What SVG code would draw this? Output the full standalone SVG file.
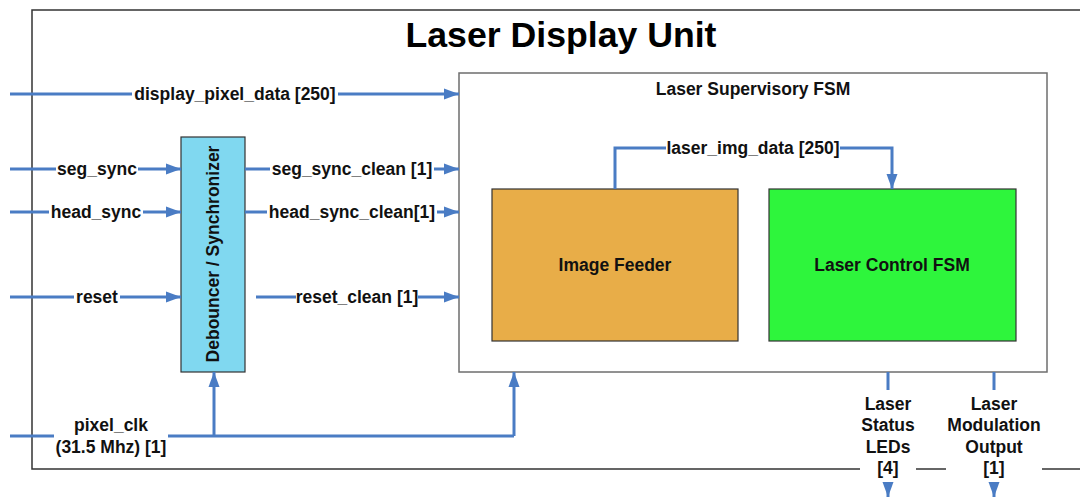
<svg xmlns="http://www.w3.org/2000/svg" width="1080" height="497" viewBox="0 0 1080 497">
  <style>
    .frame { fill: #ffffff; stroke: #6e6e6e; stroke-width: 1.5; }
    .wire { fill: none; stroke: #4a7cc4; stroke-width: 3; }
    .lbl { font-family: "Liberation Sans", Arial, sans-serif; font-weight: bold; font-size: 17.5px; fill: #111111; text-anchor: middle; }
    .title { font-family: "Liberation Sans", Arial, sans-serif; font-weight: bold; font-size: 35px; fill: #000000; text-anchor: middle; }
    .gap { fill: #ffffff; }
  </style>
  <defs>
    <marker id="arrow" viewBox="0 0 15 12" refX="15" refY="6" markerWidth="15" markerHeight="12" markerUnits="userSpaceOnUse" orient="auto">
      <path d="M0,0.5 L15,6 L0,11.5 Z" fill="#4a7cc4"/>
    </marker>
  </defs>

  <rect width="1080" height="497" fill="#ffffff"/>

  <!-- Outer unit boundary (open on the right, broken at the output labels) -->
  <g id="laser-display-unit">
    <path d="M1080,10 L32,10 L32,469 L860,469" fill="none" stroke="#333333" stroke-width="1.5"/>
    <path d="M916,469 L946,469" fill="none" stroke="#333333" stroke-width="1.5"/>
    <path d="M1042,469 L1080,469" fill="none" stroke="#333333" stroke-width="1.5"/>
    <text class="title" x="561" y="47" textLength="311" lengthAdjust="spacingAndGlyphs">Laser Display Unit</text>
  </g>

  <g id="laser-supervisory-fsm">
    <rect class="frame" x="459" y="73" width="588" height="299"/>
    <text class="lbl" x="753" y="95">Laser Supervisory FSM</text>
  </g>

  <g id="image-feeder">
    <rect x="492" y="189" width="246" height="152" fill="#e8ad48" stroke="#333333" stroke-width="1.2"/>
    <text class="lbl" x="615" y="271">Image Feeder</text>
  </g>

  <g id="laser-control-fsm">
    <rect x="769" y="189" width="247" height="152" fill="#2ef53c" stroke="#333333" stroke-width="1.2"/>
    <text class="lbl" x="892" y="271">Laser Control FSM</text>
  </g>

  <g id="debouncer-synchronizer">
    <rect x="181" y="137" width="64" height="235" fill="#80d8f0" stroke="#333333" stroke-width="1.2"/>
    <text class="lbl" transform="translate(219,254) rotate(-90)">Debouncer / Synchronizer</text>
  </g>

  <g id="connectors">
    <!-- inputs to the unit -->
    <path class="wire" d="M10,94 L459,94" marker-end="url(#arrow)"/>
    <path class="wire" d="M10,169 L181,169" marker-end="url(#arrow)"/>
    <path class="wire" d="M10,212 L181,212" marker-end="url(#arrow)"/>
    <path class="wire" d="M10,297 L181,297" marker-end="url(#arrow)"/>
    <!-- cleaned signals -->
    <path class="wire" d="M245,169 L459,169" marker-end="url(#arrow)"/>
    <path class="wire" d="M245,212 L459,212" marker-end="url(#arrow)"/>
    <path class="wire" d="M256,297 L459,297" marker-end="url(#arrow)"/>
    <!-- clock distribution -->
    <path class="wire" d="M10,436 L514,436"/>
    <path class="wire" d="M214,436 L214,372" marker-end="url(#arrow)"/>
    <path class="wire" d="M514,436 L514,372" marker-end="url(#arrow)"/>
    <!-- internal image data -->
    <path class="wire" d="M615,189 L615,148 L892,148 L892,189" marker-end="url(#arrow)"/>
    <!-- outputs -->
    <path class="wire" d="M888,372 L888,390"/>
    <path class="wire" d="M888,484 L888,497" marker-end="url(#arrow)"/>
    <path class="wire" d="M994,372 L994,390"/>
    <path class="wire" d="M994,484 L994,497" marker-end="url(#arrow)"/>

    <!-- label backgrounds break the wires -->
    <rect class="gap" x="132" y="84" width="206" height="20"/>
    <rect class="gap" x="56" y="159" width="82" height="20"/>
    <rect class="gap" x="49" y="202" width="94" height="20"/>
    <rect class="gap" x="74" y="287" width="46" height="20"/>
    <rect class="gap" x="270" y="159" width="164" height="20"/>
    <rect class="gap" x="267" y="202" width="170" height="20"/>
    <rect class="gap" x="296" y="287" width="122" height="20"/>
    <rect class="gap" x="54" y="412" width="114" height="46"/>
    <rect class="gap" x="666" y="138" width="174" height="20"/>

    <text class="lbl" x="235" y="100">display_pixel_data [250]</text>
    <text class="lbl" x="97" y="175">seg_sync</text>
    <text class="lbl" x="96" y="218">head_sync</text>
    <text class="lbl" x="97" y="303">reset</text>
    <text class="lbl" x="352" y="175">seg_sync_clean [1]</text>
    <text class="lbl" x="352" y="218">head_sync_clean[1]</text>
    <text class="lbl" x="357" y="303">reset_clean [1]</text>
    <text class="lbl" x="111" y="431">pixel_clk</text>
    <text class="lbl" x="111" y="453">(31.5 Mhz) [1]</text>
    <text class="lbl" x="753" y="154">laser_img_data [250]</text>

    <text class="lbl" x="888" y="410">Laser</text>
    <text class="lbl" x="888" y="431">Status</text>
    <text class="lbl" x="888" y="453">LEDs</text>
    <text class="lbl" x="888" y="474">[4]</text>
    <text class="lbl" x="994" y="410">Laser</text>
    <text class="lbl" x="994" y="431">Modulation</text>
    <text class="lbl" x="994" y="453">Output</text>
    <text class="lbl" x="994" y="474">[1]</text>
  </g>
</svg>
